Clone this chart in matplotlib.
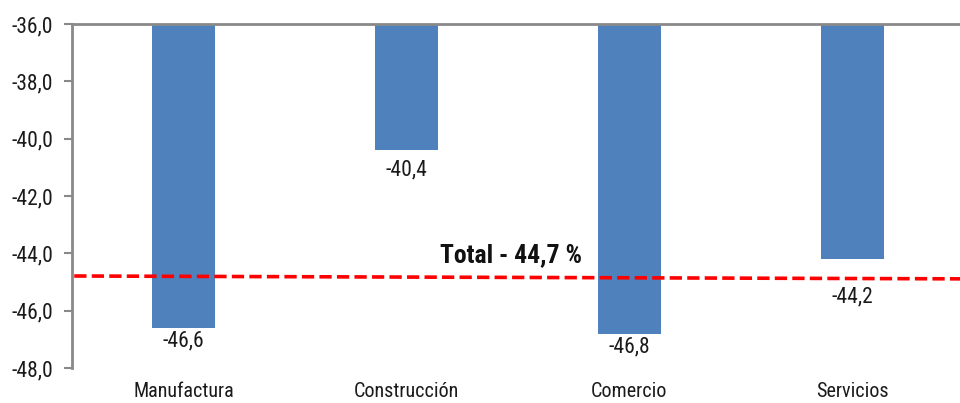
import matplotlib
matplotlib.use("Agg")
import matplotlib.pyplot as plt
from matplotlib import font_manager as fm

categories = ["Manufactura", "Construcción", "Comercio", "Servicios"]
values = [-46.6, -40.4, -46.8, -44.2]
total_label = "Total - 44,7 %"
total_line_y = [-44.79, -44.89]
yticks = [-36, -38, -40, -42, -44, -46, -48]
baseline = -36.0


def find_narrow(bold=False):
    prefs = ["liberation sans narrow", "arial narrow", "roboto condensed",
             "open sans condensed", "noto sans", "dejavu sans", "lato", "inter"]
    cands = []
    for f in fm.fontManager.ttflist:
        key = (f.name + " " + f.fname).lower()
        if not ("narrow" in key or "condensed" in key):
            continue
        k2 = key.replace(" ", "").replace("-", "")
        if "semicondensed" in k2 or "extracondensed" in k2:
            continue
        if "mono" in key or "serif" in key.replace("sans", ""):
            continue
        if "italic" in key or "oblique" in key:
            continue
        w = f.weight if isinstance(f.weight, int) else {"bold": 700, "normal": 400, "regular": 400}.get(str(f.weight), 400)
        isbold = w >= 600 or "bold" in key
        if "semibold" in key or "light" in key or "medium" in key or "black" in key or "thin" in key:
            continue
        if isbold != bold:
            continue
        rank = len(prefs)
        for i, p in enumerate(prefs):
            if p in key:
                rank = i
                break
        cands.append((rank, f.fname))
    cands.sort()
    return cands[0][1] if cands else None


reg_file = find_narrow(False)
bold_file = find_narrow(True)
scale = 1.0 if reg_file else 0.85


def fp(size, bold=False):
    f = bold_file if bold else reg_file
    if f:
        return fm.FontProperties(fname=f, size=size)
    return fm.FontProperties(family=["Liberation Sans", "DejaVu Sans"], size=size * scale,
                             weight="bold" if bold else "normal")


fig = plt.figure(figsize=(9.6, 4.03), dpi=100)
ax = fig.add_axes([0.075, 0.0868, 0.929, 0.8536])

x = list(range(len(categories)))
heights = [v - baseline for v in values]
ax.bar(x, heights, bottom=baseline, width=0.28, color="#4F81BD", zorder=2)

label_offsets = [-1.5, -6.5, -2.0, -20.0]
for xi, v, off in zip(x, values, label_offsets):
    ax.annotate(f"{v:.1f}".replace(".", ","), (xi, v), xytext=(0, off),
                textcoords="offset points", ha="center", va="top",
                fontproperties=fp(15.5), color="#1a1a1a")

ax.plot([-0.49, 3.5], total_line_y, color="#FF0000", lw=2.6,
        dashes=(3.4, 1.45), zorder=3, dash_capstyle='butt')
ax.text(1.47, -44.05, total_label, ha="center", va="center",
        fontproperties=fp(18.5, bold=True), color="#111111")

ax.set_xlim(-0.5, 3.5)
ax.set_ylim(-48, -36)
ax.set_yticks(yticks)
ax.set_yticklabels([f"{t:.1f}".replace(".", ",") for t in yticks], color="#1a1a1a")
for lab in ax.get_yticklabels():
    lab.set_fontproperties(fp(15.5))
ax.set_xticks(x)
ax.set_xticklabels(categories, color="#1a1a1a")
for lab in ax.get_xticklabels():
    lab.set_fontproperties(fp(14.5))

ax.tick_params(axis="y", direction="out", length=6, width=1.5, color="#898989", pad=7.5)
ax.tick_params(axis="x", length=0, pad=10)

for s in ["right", "bottom"]:
    ax.spines[s].set_visible(False)
for s in ["left", "top"]:
    ax.spines[s].set_color("#898989")
    ax.spines[s].set_linewidth(2)

fig.savefig("out.png", dpi=100)
